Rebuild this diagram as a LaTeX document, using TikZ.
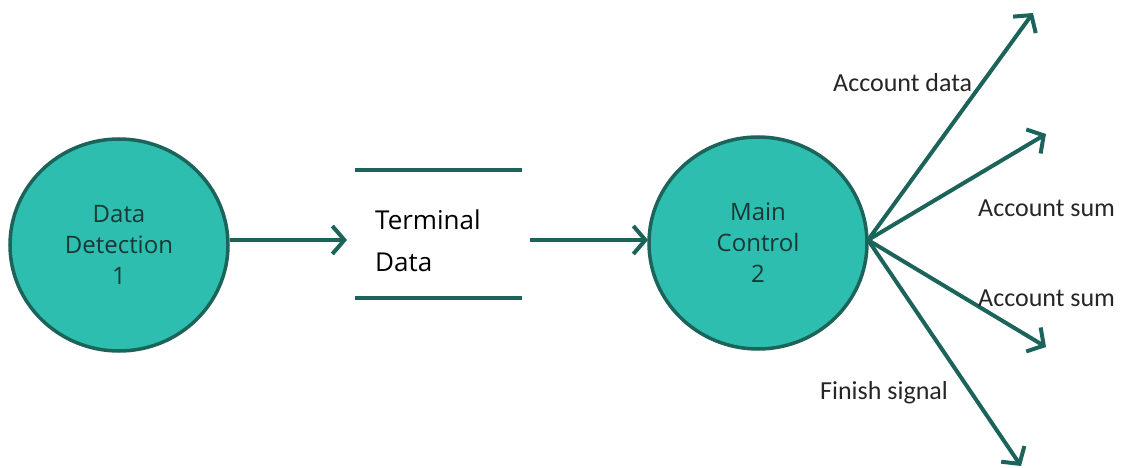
\documentclass[tikz,border=0pt]{standalone}
\usepackage{fontspec}
\setmainfont{Carlito}
\newfontfamily\boxfont{Open Sans}
\usetikzlibrary{arrows.meta,shapes.geometric}
\definecolor{tealfill}{RGB}{46,190,176}
\definecolor{tealdark}{RGB}{28,100,90}
\definecolor{txtdark}{RGB}{25,55,52}
\tikzset{
  x=1pt, y=1pt,
  proc/.style={ellipse, draw=tealdark, line width=3.5pt, fill=tealfill, inner sep=0pt,
    minimum width=218pt, minimum height=212pt, align=center, text=txtdark,
    font=\boxfont\fontsize{24}{31}\selectfont},
  flow/.style={draw=tealdark, line width=4pt, -{Straight Barb[length=12pt,width=28pt,line width=4pt]}},
  storeline/.style={draw=tealdark, line width=3.5pt},
  lbl/.style={font=\fontsize{26}{30}\selectfont, text=black!85, inner sep=0pt},
}
\begin{document}
\begin{tikzpicture}
\useasboundingbox (0,0) rectangle (1125,-468);
\node[proc] (dd) at (119,-245) {Data\\Detection\\1};
\node[proc] (mc) at (758,-243) {Main\\Control\\2};
% data store
\coordinate (st1) at (355,-170);
\coordinate (st2) at (522,-170);
\coordinate (sb1) at (355,-298);
\coordinate (sb2) at (522,-298);
\draw[storeline] (st1) -- (st2);
\draw[storeline] (sb1) -- (sb2);
\node[anchor=west, align=left, inner sep=0pt, font=\boxfont\fontsize{26}{42}\selectfont, text=black] (td) at (375,-241) {Terminal\\Data};
\coordinate (a1s) at (230,-240);
\coordinate (a1e) at (347,-240);
\coordinate (a2s) at (530,-240);
\coordinate (a2e) at (648,-240);
\draw[flow] (a1s) -- (a1e);
\draw[flow] (a2s) -- (a2e);
% fan
\coordinate (o) at (868,-240);
\coordinate (e1) at (1033,-13);
\coordinate (e2) at (1046,-134);
\coordinate (e3) at (1046,-347);
\coordinate (e4) at (1021,-466);
\draw[flow] (o) -- (e1);
\draw[flow] (o) -- (e2);
\draw[flow] (o) -- (e3);
\draw[flow] (o) -- (e4);
\node[lbl, anchor=west] (l1) at (833,-83) {Account data};
\node[lbl, anchor=west] (l2) at (978,-208) {Account sum};
\node[lbl, anchor=west] (l3) at (978,-298) {Account sum};
\node[lbl, anchor=west] (l4) at (820,-393) {Finish signal};
\end{tikzpicture}
\end{document}
